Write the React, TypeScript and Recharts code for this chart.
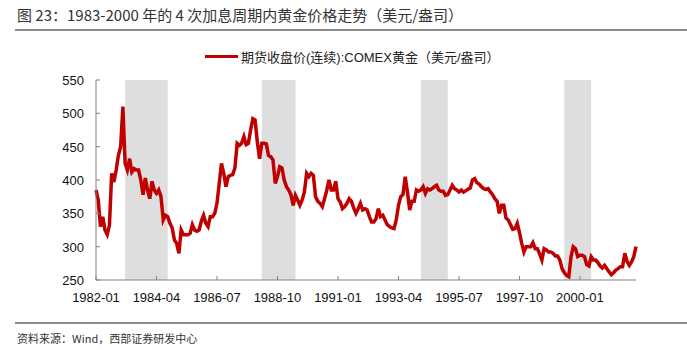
import React from 'react';
import { LineChart, Line, XAxis, YAxis, ReferenceArea } from 'recharts';

// COMEX gold, monthly close, 1982-01 .. 2002-02 (USD/oz)
const prices = [
  385, 370, 330, 345, 325, 318, 332, 410, 397, 415, 437, 450,
  510, 425, 415, 432, 412, 417, 415, 415, 400, 378, 403, 385,
  372, 398, 385, 380, 385, 375, 340, 347, 345, 335, 328, 310,
  305, 290, 325, 318, 318, 318, 320, 333, 325, 323, 325, 338,
  347, 335, 330, 345, 345, 350, 365, 395, 425, 410, 390, 405,
  407, 408, 418, 455, 452, 455, 465, 453, 455, 475, 492, 490,
  457, 432, 455, 455, 454, 437, 435, 430, 395, 405, 420, 418,
  400, 390, 385, 378, 362, 377, 370, 362, 370, 382, 410, 405,
  410, 407, 375, 368, 365, 360, 372, 385, 400, 385, 385, 398,
  372, 367, 357, 360, 365, 372, 368, 358, 350, 357, 365, 355,
  357, 355, 345, 337, 337, 342, 357, 345, 347, 340, 333, 330,
  328, 327, 340, 362, 375, 378, 405, 382, 355, 368, 368, 385,
  383, 385, 390, 380, 387, 385, 387, 390, 392, 385, 383, 383,
  377, 378, 385, 392, 387, 385, 382, 385, 382, 384, 386, 388,
  400, 402, 396, 394, 390, 387, 386, 387, 382, 378, 372, 368,
  350, 362, 362, 343, 340, 333, 326, 327, 335, 321, 305, 292,
  300, 300, 300, 306, 297, 297, 289, 280, 297, 295, 292, 292,
  290, 286, 286, 280, 267, 261, 257, 255, 285, 300, 297, 285,
  287, 287, 285, 273, 271, 285, 280, 280, 276, 271, 268, 272,
  267, 262, 258, 261, 265, 267, 270, 270, 290, 278, 272, 277,
  285, 300,
];

const months = prices.map((_, i) => {
  const y = 1982 + Math.floor(i / 12);
  const m = (i % 12) + 1;
  return `${y}-${m < 10 ? '0' + m : m}`;
});

const xTicks = ['1982-01', '1984-04', '1986-07', '1988-10', '1991-01', '1993-04', '1995-07', '1997-10', '2000-01'];
const yTicks = [250, 300, 350, 400, 450, 500, 550];

// rate-hike cycles (shaded)
const hikeCycles = [
  ['1983-02', '1984-09'],
  ['1988-03', '1989-06'],
  ['1994-02', '1995-02'],
  ['1999-06', '2000-06'],
];

const data = months.map((m, i) => ({ month: m, price: prices[i] }));

const AXIS = '#808080';
const FONT = 'Arial, "Liberation Sans", "Noto Sans CJK SC", sans-serif';

const YTick = (props: any) => {
  const { x, y, payload } = props;
  return (
    <g>
      <line x1={x} x2={x + 4} y1={y} y2={y} stroke={AXIS} />
      <text x={x - 12} y={y + 5} textAnchor="end" fontSize={13} fill="#111" fontFamily={FONT}>
        {payload.value}
      </text>
    </g>
  );
};

const XTick = (props: any) => {
  const { x, y, payload } = props;
  return (
    <g>
      <line x1={x} x2={x} y1={y} y2={y - 4} stroke={AXIS} />
      <text x={x} y={y + 22} textAnchor="middle" fontSize={13} fill="#111" fontFamily={FONT}>
        {payload.value}
      </text>
    </g>
  );
};

export default function App() {
  return (
    <div style={{ position: 'absolute', left: 0, top: 0, width: 687, height: 350, background: '#fff', fontFamily: FONT }}>
      <div style={{ position: 'absolute', left: 17, top: 4, fontSize: 15, color: '#333', whiteSpace: 'nowrap', fontFamily: '"Noto Sans CJK SC", sans-serif' }}>
        图 23：1983-2000 年的 4 次加息周期内黄金价格走势（美元/盎司）
      </div>
      <div style={{ position: 'absolute', left: 15, right: 0, top: 29, height: 2, background: '#8c8c8c' }} />

      <div style={{ position: 'absolute', left: 205, top: 47, display: 'flex', alignItems: 'center', whiteSpace: 'nowrap' }}>
        <div style={{ width: 33, height: 3, background: '#c00000', marginRight: 3 }} />
        <span style={{ fontSize: 13, color: '#222', fontFamily: FONT }}>期货收盘价(连续):COMEX黄金（美元/盎司）</span>
      </div>

      <div style={{ position: 'absolute', left: 0, top: 0 }}>
        <LineChart width={687} height={350} data={data} margin={{ top: 80, right: 51, bottom: 40, left: 36 }}>
          {hikeCycles.map(([a, b]) => (
            <ReferenceArea key={a} x1={a} x2={b} y1={250} y2={550} fill="#dedede" fillOpacity={1} stroke="none" ifOverflow="hidden" />
          ))}
          <XAxis
            dataKey="month"
            ticks={xTicks}
            interval={0}
            stroke={AXIS}
            tickLine={false}
            tickSize={0}
            tickMargin={0}
            height={30}
            tick={<XTick />}
          />
          <YAxis
            domain={[250, 550]}
            ticks={yTicks}
            stroke={AXIS}
            tickLine={false}
            tickSize={0}
            tickMargin={0}
            width={60}
            tick={<YTick />}
          />
          <Line type="linear" dataKey="price" stroke="#c00000" strokeWidth={3.5} dot={false} isAnimationActive={false} />
        </LineChart>
      </div>

      <div style={{ position: 'absolute', left: 15, right: 0, top: 322, height: 2, background: '#8c8c8c' }} />
      <div style={{ position: 'absolute', left: 17, top: 330, fontSize: 11, color: '#333', whiteSpace: 'nowrap', fontFamily: '"Noto Sans CJK SC", sans-serif' }}>
        资料来源：Wind，西部证券研发中心
      </div>
    </div>
  );
}
